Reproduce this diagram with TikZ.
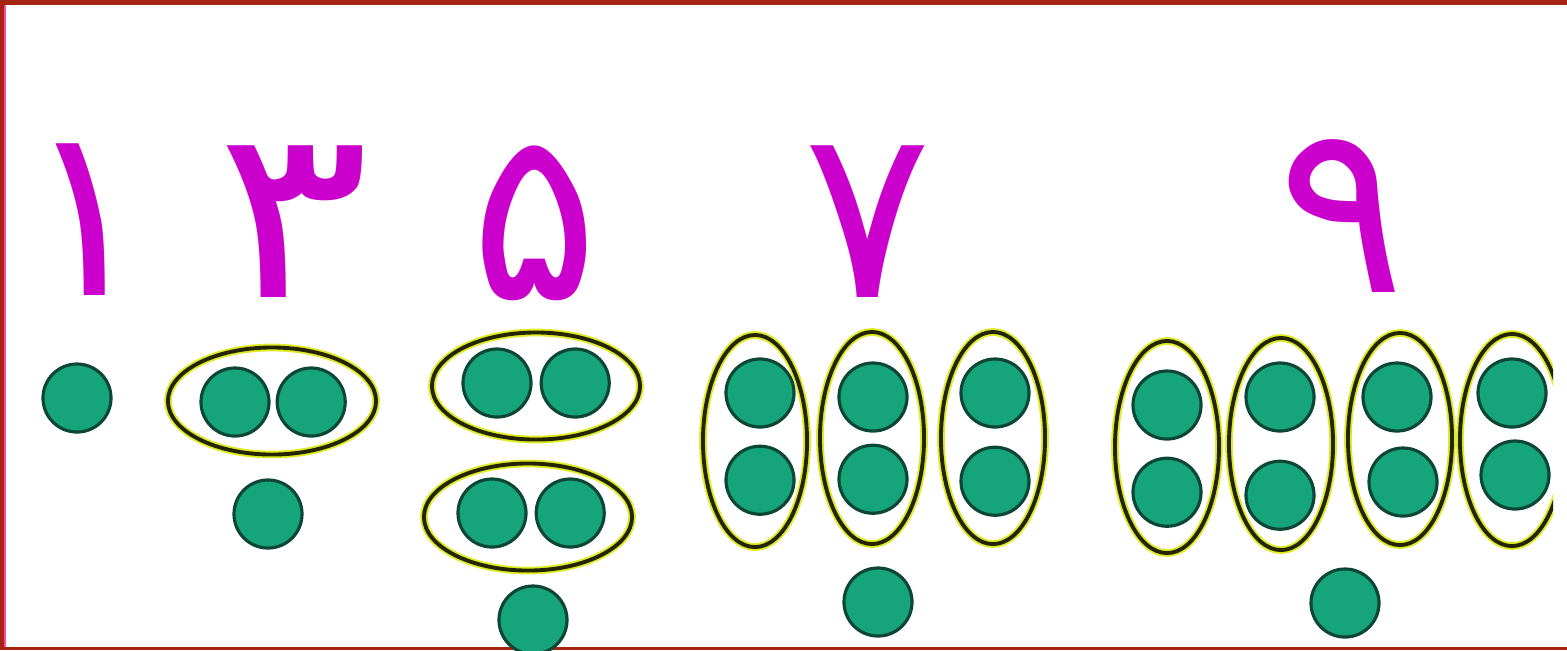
\documentclass[tikz,border=0pt]{standalone}
\usepackage{fontspec}
\newfontfamily\arabicfont[Script=Arabic]{DejaVu Sans}
\usetikzlibrary{positioning,shapes.geometric}

\definecolor{digitpink}{RGB}{204,0,204}
\definecolor{ballgreen}{RGB}{22,164,122}
\definecolor{ballrim}{RGB}{12,70,52}
\definecolor{ringdark}{RGB}{36,36,0}
\definecolor{ringglow}{RGB}{222,236,40}
\definecolor{framered}{RGB}{165,36,18}
\definecolor{framepink}{RGB}{255,70,160}

\begin{document}
\begin{tikzpicture}[x=0.01cm, y=-0.01cm,
  ball/.style={circle, fill=ballgreen, draw=ballrim, line width=0.9pt,
               minimum size=0.68cm, inner sep=0pt},
  hring/.style={ellipse, draw=ringdark, line width=1.1pt, inner sep=0pt,
                minimum width=2.08cm, minimum height=1.07cm,
                preaction={draw=ringglow, line width=2.2pt}},
  vring/.style={hring, minimum width=1.04cm, minimum height=2.12cm},
  digit/.style={text=digitpink, inner sep=0pt, anchor=base,
                font=\arabicfont\fontsize{68}{68}\selectfont},
]
\useasboundingbox (0,0) rectangle (1567,650);

\fill[framered] (0,0) rectangle (1567,5);
\fill[framered] (0,0) rectangle (4,650);
\fill[framepink] (4,5) rectangle (6,650);
\fill[framered] (0,647) rectangle (1567,650);

\node[digit] (d1) at (88,295) {۱};
\node[digit, xscale=1.2, transform shape] (d3) at (294,297) {۳};
\node[digit] (d5) at (535,299) {۵};
\node[digit] (d7) at (868,297) {۷};
\node[digit] (d9) at (1342,292) {۹};

\node[ball] (one) at (77,398) {};

\node[hring] (r3) at (272,401) {};
\node[ball] (t1) at (235,402) {};
\node[ball, right=0.05cm of t1] (t2) {};
\node[ball] (t3) at (268,514) {};

\node[hring] (r5a) at (536,386) {};
\node[ball] (f1) at (497,383) {};
\node[ball, right=0.07cm of f1] (f2) {};
\node[hring] (r5b) at (528,517) {};
\node[ball] (f3) at (492,513) {};
\node[ball, right=0.07cm of f3] (f4) {};
\node[ball] (f5) at (533,620) {};

\node[vring] (r7a) at (755,441) {};
\node[vring] (r7b) at (872,438) {};
\node[vring] (r7c) at (993,438) {};
\node[ball] (s1) at (760,393) {};
\node[ball, below=0.16cm of s1] (s2) {};
\node[ball] (s3) at (873,397) {};
\node[ball, below=0.11cm of s3] (s4) {};
\node[ball] (s5) at (995,393) {};
\node[ball, below=0.17cm of s5] (s6) {};
\node[ball] (s7) at (878,602) {};

\begin{scope}
\clip (0,0) rectangle (1553,650);
\node[vring] (r9a) at (1167,447) {};
\node[vring] (r9b) at (1281,444) {};
\node[vring] (r9c) at (1400,439) {};
\node[vring] (r9d) at (1512,440) {};
\end{scope}
\node[ball] (n1) at (1167,405) {};
\node[ball, below=0.16cm of n1] (n2) {};
\node[ball] (n3) at (1280,397) {};
\node[ball, below=0.27cm of n3] (n4) {};
\node[ball] (n5) at (1397,397) {};
\node[ball] (n6) at (1403,482) {};
\node[ball] (n7) at (1512,393) {};
\node[ball] (n8) at (1515,475) {};
\node[ball] (n9) at (1345,603) {};

\end{tikzpicture}
\end{document}
